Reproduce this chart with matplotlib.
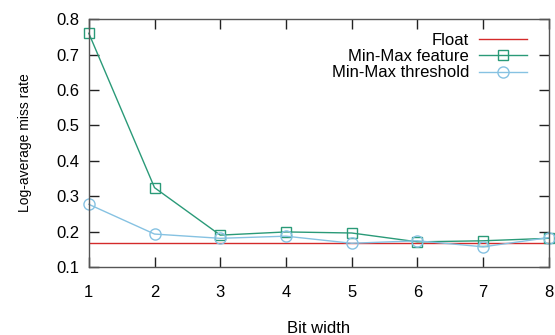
import matplotlib.pyplot as plt
import numpy as np

plt.rcParams['font.family'] = ['Liberation Sans', 'DejaVu Sans']

# Data
bit_width = [1, 2, 3, 4, 5, 6, 7, 8]
float_rate = 0.169
minmax_feature = [0.760, 0.324, 0.190, 0.199, 0.196, 0.171, 0.174, 0.181]
minmax_threshold = [0.277, 0.193, 0.181, 0.187, 0.167, 0.174, 0.157, 0.183]
y_ticks = [0.1, 0.2, 0.3, 0.4, 0.5, 0.6, 0.7, 0.8]

fig = plt.figure(figsize=(5.55, 3.35), dpi=100)
ax = fig.add_axes([0.160, 0.203, 0.829, 0.740])

# Float baseline as a horizontal line spanning the axis
ax.plot([bit_width[0], bit_width[-1]], [float_rate, float_rate],
        color='#d42a2a', lw=1.0, label='Float')
ax.plot(bit_width, minmax_feature, color='#2a9a78', lw=1.0, marker='s',
        markersize=7.5, fillstyle='none', markeredgewidth=1.0,
        label='Min-Max feature', clip_on=False)
ax.plot(bit_width, minmax_threshold, color='#86c2e2', lw=1.0, marker='o',
        markersize=8, fillstyle='none', markeredgewidth=1.0,
        label='Min-Max threshold', clip_on=False)

ax.set_xlim(1, 8)
ax.set_ylim(0.1, 0.8)
ax.set_xticks(bit_width)
ax.set_yticks(y_ticks)
ax.set_yticklabels([f'{v:.1f}' for v in y_ticks])

ax.tick_params(direction='in', length=7, width=1, top=True, right=True,
               labelsize=12, color='#222222')
ax.tick_params(axis='x', pad=13)
ax.tick_params(axis='y', pad=7)
for s in ax.spines.values():
    s.set_color('#555555')
    s.set_linewidth(1.0)

ax.set_xlabel('Bit width', fontsize=12, labelpad=15)
ax.set_ylabel('Log-average miss rate', fontsize=10)
ax.yaxis.set_label_coords(-0.124, 0.5)

ax.legend(loc='upper right', frameon=False, markerfirst=False, fontsize=12,
          handlelength=2.9, labelspacing=0.08, borderaxespad=0.2,
          handletextpad=0.6, bbox_to_anchor=(0.975, 0.985))

fig.savefig('out.png', dpi=100)
